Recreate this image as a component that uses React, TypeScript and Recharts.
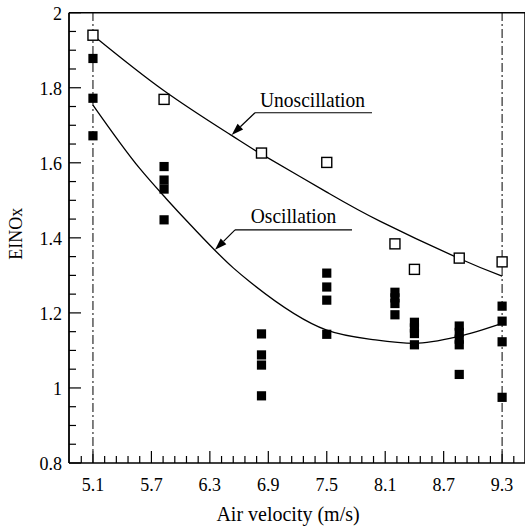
import React from 'react';
import { ComposedChart, XAxis, YAxis, Scatter, Line, ReferenceLine, ReferenceDot } from 'recharts';

// ---- data ----
const xMajorTicks = [5.1, 5.7, 6.3, 6.9, 7.5, 8.1, 8.7, 9.3];
const yMajorTicks = [0.8, 1, 1.2, 1.4, 1.6, 1.8, 2];

// Unoscillation (open squares)
const unoscX = [5.1, 5.83, 6.83, 7.5, 8.2, 8.4, 8.86, 9.3];
const unoscY = [1.94, 1.769, 1.626, 1.601, 1.384, 1.316, 1.346, 1.336];

// Oscillation (filled squares)
const oscX = [
  5.1, 5.1, 5.1,
  5.83, 5.83, 5.83, 5.83,
  6.83, 6.83, 6.83, 6.83,
  7.5, 7.5, 7.5, 7.5,
  8.2, 8.2, 8.2, 8.2,
  8.4, 8.4, 8.4, 8.4,
  8.86, 8.86, 8.86, 8.86, 8.86,
  9.3, 9.3, 9.3, 9.3,
];
const oscY = [
  1.878, 1.772, 1.672,
  1.59, 1.554, 1.53, 1.448,
  1.144, 1.088, 1.061, 0.979,
  1.306, 1.269, 1.234, 1.143,
  1.255, 1.24, 1.225, 1.195,
  1.175, 1.16, 1.145, 1.115,
  1.165, 1.148, 1.13, 1.115, 1.036,
  1.218, 1.178, 1.123, 0.975,
];

// Fitted curves
const unoscFitX = [5.1, 5.83, 6.51, 6.83, 7.5, 8.05, 8.86, 9.3];
const unoscFitY = [1.94, 1.792, 1.675, 1.623, 1.522, 1.444, 1.345, 1.298];
const oscFitX = [5.1, 5.58, 5.85, 6.1, 6.54, 6.71, 7.5, 8.0, 8.4, 8.85, 9.3];
const oscFitY = [1.754, 1.585, 1.505, 1.435, 1.32, 1.283, 1.154, 1.128, 1.119, 1.137, 1.172];

// annotation arrow tips (data coords)
const unoscTip = { x: 6.524, y: 1.674 };
const oscTip = { x: 6.353, y: 1.368 };

const X_DOMAIN: [number, number] = [4.854, 9.535];
const Y_DOMAIN: [number, number] = [0.8, 2];

const zip = (xs: number[], ys: number[]) => xs.map((x, i) => ({ x, y: ys[i] }));
const unoscData = zip(unoscX, unoscY);
const oscData = zip(oscX, oscY);
const unoscFit = zip(unoscFitX, unoscFitY);
const oscFit = zip(oscFitX, oscFitY);

const xTicks: number[] = [];
for (let i = -1; i <= 36; i++) xTicks.push(Math.round((5.1 + i * 0.12) * 100) / 100);
const yTicks: number[] = [];
for (let i = 0; i <= 24; i++) yTicks.push(Math.round((0.8 + i * 0.05) * 100) / 100);

const isMajor = (v: number, list: number[]) => list.some((m) => Math.abs(m - v) < 1e-6);

const FONT = '"Liberation Serif", "Times New Roman", serif';
const STRETCH = 1.1;

const SText = ({ x, y, size, anchor = 'start', children, rotate = 0 }: any) => (
  <text
    x={0}
    y={0}
    textAnchor={anchor}
    transform={`translate(${x}, ${y}) rotate(${rotate}) scale(1, ${STRETCH})`}
    fontFamily={FONT}
    fontSize={size}
    fill="#000"
  >
    {children}
  </text>
);

const XTick = (props: any) => {
  const { x, y, payload } = props;
  const major = isMajor(payload.value, xMajorTicks);
  return (
    <g>
      <line x1={x} x2={x} y1={y} y2={y - (major ? 12 : 7)} stroke="#000" strokeWidth={1.2} />
      {major && (
        <SText x={x} y={y + 28} size={18} anchor="middle">
          {String(payload.value)}
        </SText>
      )}
    </g>
  );
};

const YTick = (props: any) => {
  const { x, y, payload } = props;
  const major = isMajor(payload.value, yMajorTicks);
  return (
    <g>
      <line x1={x} x2={x + (major ? 12 : 7)} y1={y} y2={y} stroke="#000" strokeWidth={1.2} />
      {major && (
        <SText x={x - 7} y={y + 6.8} size={18} anchor="end">
          {String(payload.value)}
        </SText>
      )}
    </g>
  );
};

const OpenSquare = (props: any) => {
  const { cx, cy } = props;
  return <rect x={cx - 5} y={cy - 5} width={10} height={10} fill="#fff" stroke="#000" strokeWidth={1.4} />;
};
const FilledSquare = (props: any) => {
  const { cx, cy } = props;
  return <rect x={cx - 4.6} y={cy - 4.6} width={9.2} height={9.2} fill="#000" stroke="none" />;
};

const makeCallout = (label: string, elbowDx: number, elbowDy: number, lineLen: number, textDx: number, textDy: number) =>
  (props: any) => {
    const { cx, cy } = props;
    const ex = cx + elbowDx;
    const ey = cy + elbowDy;
    const len = Math.hypot(elbowDx, elbowDy);
    const dx = -elbowDx / len;
    const dy = -elbowDy / len;
    const nx = -dy;
    const ny = dx;
    const L = 12;
    const W = 4;
    const bx = cx - dx * L;
    const by = cy - dy * L;
    const pts = `${cx},${cy} ${bx + nx * W},${by + ny * W} ${bx - nx * W},${by - ny * W}`;
    return (
      <g>
        <line x1={bx} y1={by} x2={ex} y2={ey} stroke="#000" strokeWidth={1.2} />
        <polygon points={pts} fill="#000" />
        <line x1={ex} y1={ey} x2={ex + lineLen} y2={ey} stroke="#000" strokeWidth={1.2} />
        <SText x={cx + textDx} y={cy + textDy} size={19.5}>
          {label}
        </SText>
      </g>
    );
  };

const unoscCallout = makeCallout('Unoscillation', 23.3, -22.3, 117, 28.3, -28.5);
const oscCallout = makeCallout('Oscillation', 20, -20, 117, 35.7, -26.7);

export default function App() {
  return (
    <div style={{ position: 'absolute', left: 0, top: 0, background: '#fff' }}>
      <ComposedChart width={525} height={531} margin={{ top: 12.7, right: 0, bottom: 0, left: 0 }}>
        <XAxis
          type="number"
          dataKey="x"
          domain={X_DOMAIN}
          ticks={xTicks}
          interval={0}
          allowDataOverflow
          height={68}
          tickSize={0}
          tickMargin={0}
          tickLine={false}
          tick={<XTick />}
          axisLine={{ stroke: '#000', strokeWidth: 1.5 }}
          label={{
            content: (p: any) => {
              const vb = p.viewBox || { x: 69, y: 463, width: 456, height: 68 };
              return (
                <SText x={vb.x + vb.width / 2 - 9} y={vb.y + vb.height - 10} size={20} anchor="middle">
                  Air velocity (m/s)
                </SText>
              );
            },
          }}
        />
        <YAxis
          type="number"
          dataKey="y"
          domain={Y_DOMAIN}
          ticks={yTicks}
          interval={0}
          allowDataOverflow
          width={69}
          tickSize={0}
          tickMargin={0}
          tickLine={false}
          tick={<YTick />}
          axisLine={{ stroke: '#000', strokeWidth: 1.8 }}
          label={{
            content: (p: any) => {
              const vb = p.viewBox || { x: 0, y: 12.7, width: 69, height: 450 };
              const cx = vb.x + 22;
              const cy = vb.y + vb.height / 2 - 4;
              return (
                <SText x={cx} y={cy} size={18} anchor="middle" rotate={-90}>
                  EINOx
                </SText>
              );
            },
          }}
        />
        <ReferenceLine y={2} stroke="#000" strokeWidth={1.5} />
        <ReferenceLine x={X_DOMAIN[1]} stroke="#000" strokeWidth={1.5} />
        <ReferenceLine x={5.1} stroke="#000" strokeWidth={1} strokeDasharray="9 3 2 3" />
        <ReferenceLine x={9.3} stroke="#000" strokeWidth={1} strokeDasharray="9 3 2 3" />
        <Line data={unoscFit} dataKey="y" type="natural" stroke="#000" strokeWidth={1.3} dot={false} activeDot={false} isAnimationActive={false} />
        <Line data={oscFit} dataKey="y" type="monotone" stroke="#000" strokeWidth={1.3} dot={false} activeDot={false} isAnimationActive={false} />
        <Scatter data={unoscData} dataKey="y" shape={<OpenSquare />} isAnimationActive={false} />
        <Scatter data={oscData} dataKey="y" shape={<FilledSquare />} isAnimationActive={false} />
        <ReferenceDot x={unoscTip.x} y={unoscTip.y} r={0} shape={unoscCallout} />
        <ReferenceDot x={oscTip.x} y={oscTip.y} r={0} shape={oscCallout} />
      </ComposedChart>
    </div>
  );
}
